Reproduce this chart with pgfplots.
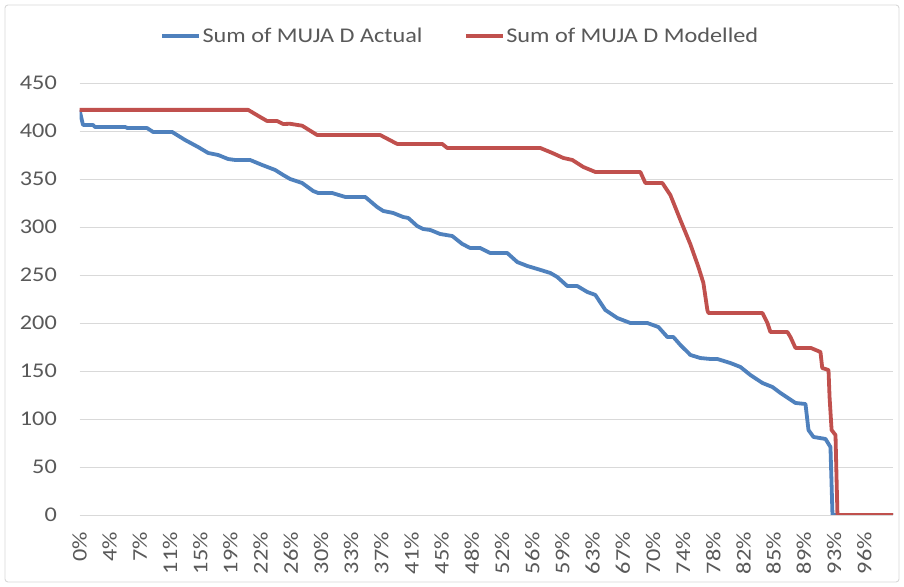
\documentclass[border=0pt]{standalone}
\usepackage{pgfplots}
\pgfplotsset{compat=1.18}
\usepackage{fontspec}
\setmainfont{Carlito}[FakeStretch=1.16]
\definecolor{blueA}{HTML}{4F81BD}
\definecolor{redM}{HTML}{C0504D}
\definecolor{gridc}{HTML}{D9D9D9}
\definecolor{txt}{HTML}{595959}
\begin{document}
\begin{tikzpicture}[x=1bp,y=1bp]
\useasboundingbox (0,0) rectangle (904,587);
\fill[white] (0,0) rectangle (904,587);
\draw[gridc, line width=0.9bp, rounded corners=3bp] (5,5) rectangle (899,582);
\begin{axis}[
  at={(79.5bp,72bp)}, anchor=south west,
  scale only axis, width=813.5bp, height=432bp,
  xmin=0, xmax=100, ymin=0, ymax=450,
  axis line style={draw=none},
  major tick length=0pt,
  ytick={0,50,...,450},
  xtick={0,3.71,7.42,11.13,14.84,18.55,22.26,25.97,29.68,33.39,37.10,40.81,44.52,48.23,51.94,55.65,59.36,63.07,66.78,70.49,74.20,77.91,81.62,85.33,89.04,92.75,96.46},
  xticklabels={0\%,4\%,7\%,11\%,15\%,19\%,22\%,26\%,30\%,33\%,37\%,41\%,45\%,48\%,52\%,56\%,59\%,63\%,67\%,70\%,74\%,78\%,82\%,85\%,89\%,93\%,96\%},
  ymajorgrids, xmajorgrids=false,
  grid style={gridc, line width=0.9bp},
  tick label style={font=\fontsize{21}{25}\selectfont, text=txt},
  /pgf/number format/assume math mode=true,
  yticklabel style={anchor=east, inner sep=0pt, xshift=-22.5bp},
  xticklabel style={yshift=-17bp, rotate=90, anchor=east, inner sep=0pt},
  legend columns=2,
  legend style={at={(axis description cs:0.4677,1.1088)}, anchor=center, draw=none, fill=none,
    font=\fontsize{21}{25}\selectfont, text=txt,
    nodes={inner sep=1.5bp},
    /tikz/every even column/.append style={column sep=40bp}},
  legend image code/.code={\draw[#1] (0bp,0bp) -- (37bp,0bp);},
  every axis plot/.append style={line width=3.8bp, line join=round},
]
\addplot[blueA] coordinates {
(0,422) (0.43,406.3) (1.66,406.3) (1.9,404.2) (5.60,404.2) (5.9,403.1) (8.30,403.1) (9.04,399) (11.38,399)
(12.98,390.6) (14.58,383.3) (15.81,377.1) (17.04,375) (18.27,370.8) (19.13,369.8) (20.97,369.8) (22.45,364.6)
(24.05,359.4) (25.03,354.2) (25.89,350) (27.37,345.8) (28.72,337.5) (29.34,335.4) (31.06,335.4) (32.66,331.3)
(35.12,331.3) (36.59,320.8) (37.33,316.7) (38.56,314.6) (39.79,310.4) (40.41,309.4) (41.51,301) (42.25,297.9)
(43.11,296.9) (44.34,292.7) (45.82,290.6) (47.05,282.3) (48.03,278.1) (49.26,278.1) (50.49,272.9) (52.58,272.9)
(53.81,263.5) (55.04,259.4) (56.27,256.3) (57.87,252.1) (58.73,247.9) (59.96,238.5) (61.19,238.5) (62.42,232.3)
(63.41,229.2) (64.64,213.5) (66.11,205.2) (67.71,200) (69.80,200) (71.16,195.8) (72.26,185.4) (73.00,185.4)
(73.86,177.1) (74.85,168.8) (75.09,166.7) (76.32,163.5) (77.55,162.5) (78.41,162.5) (80.01,158.3) (81.24,154.2)
(82.47,145.8) (83.95,137.5) (85.18,133.3) (86.16,127.1) (88.01,116.7) (89.24,115.6) (89.61,88.5) (90.22,81.3)
(91.70,79.2) (92.31,70.8) (92.56,0) (100,0)
};
\addlegendentry{Sum of MUJA D Actual}
\addplot[redM] coordinates {
(0,422) (20.73,422) (22.20,414.6) (23.06,410.4) (24.29,410.4) (25.03,407.3) (25.89,407.5) (27.37,405.5)
(29.21,395.8) (36.96,395.8) (39.05,386.5) (44.59,386.5) (45.20,382.3) (56.64,382.3) (58.12,377.1) (59.47,371.9)
(60.58,369.8) (61.93,362.5) (63.41,357.3) (68.94,357.3) (69.56,345.8) (71.65,345.8) (72.63,333.3) (73.86,307.3)
(75.09,282) (76.08,258.3) (76.69,241.7) (77.18,213.5) (77.31,210.4) (83.95,210.4) (84.56,200) (84.93,190.6)
(87.02,190.6) (87.39,185.4) (88.01,174) (89.9,174) (91.08,169.8) (91.3,153.1) (92.07,151) (92.2,122.9)
(92.45,88.5) (92.93,83.3) (93.17,0) (100,0)
};
\addlegendentry{Sum of MUJA D Modelled}
\end{axis}
\end{tikzpicture}
\end{document}
